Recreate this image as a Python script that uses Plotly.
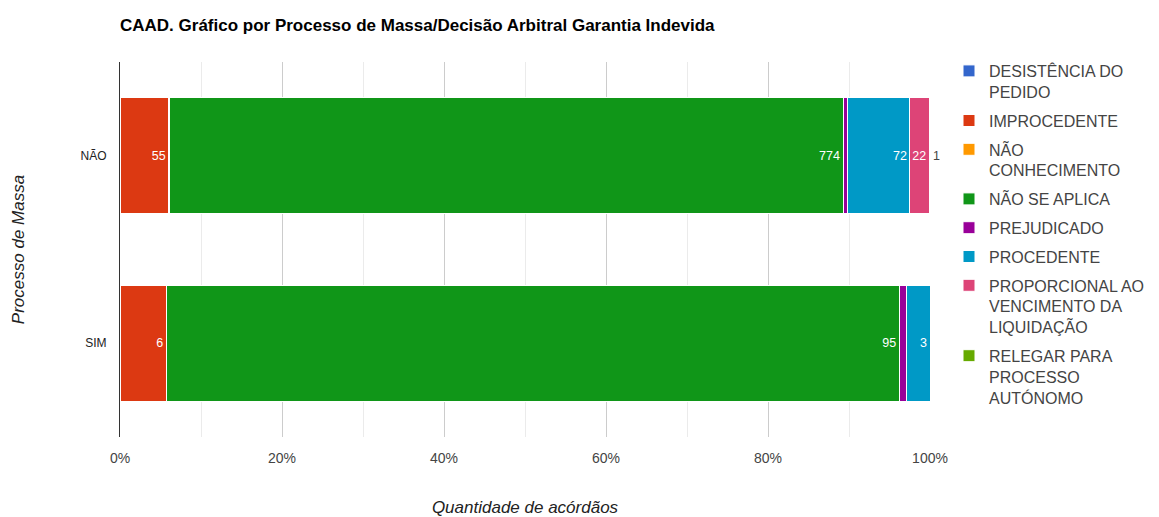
import plotly.graph_objects as go

categories = ["NÃO", "SIM"]
series_names = [
    "DESISTÊNCIA DO<br>PEDIDO",
    "IMPROCEDENTE",
    "NÃO<br>CONHECIMENTO",
    "NÃO SE APLICA",
    "PREJUDICADO",
    "PROCEDENTE",
    "PROPORCIONAL AO<br>VENCIMENTO DA<br>LIQUIDAÇÃO",
    "RELEGAR PARA<br>PROCESSO<br>AUTÓNOMO",
]
desistencia = [1, 0]
improcedente = [55, 6]
nao_conhecimento = [1, 0]
nao_se_aplica = [774, 95]
prejudicado = [5, 1]
procedente = [72, 3]
proporcional = [22, 0]
relegar = [1, 0]
series_values = [desistencia, improcedente, nao_conhecimento, nao_se_aplica,
                 prejudicado, procedente, proporcional, relegar]
colors = ["#3366CC", "#DC3912", "#FF9900", "#109618", "#990099", "#0099C6", "#DD4477", "#66AA00"]
x_ticks = [0, 0.2, 0.4, 0.6, 0.8, 1.0]
x_tick_labels = ["0%", "20%", "40%", "60%", "80%", "100%"]

totals = [sum(s[j] for s in series_values) for j in range(len(categories))]

fig = go.Figure()
for i, (name, vals, col) in enumerate(zip(series_names, series_values, colors)):
    last = i == len(series_names) - 1
    if last:
        texts = [str(v) if v > 0 else "" for v in vals]
    else:
        texts = [str(v) if v / t >= 0.02 else "" for v, t in zip(vals, totals)]
    fig.add_trace(go.Bar(
        y=categories, x=vals, name=name, orientation="h",
        legendgroup=f"g{i}",
        marker=dict(color=col, line=dict(color="white", width=1)),
        text=texts,
        textposition="outside" if last else "inside",
        insidetextanchor="end",
        textangle=0,
        insidetextfont=dict(color="white", size=12.5, family="Liberation Sans, Arial"),
        outsidetextfont=dict(color="#444444", size=12.5, family="Liberation Sans, Arial"),
        cliponaxis=False,
        constraintext="none",
        hoverinfo="x+y+name",
    ))

# page body has an 8px default margin; figure size and margins compensate for it
fig.update_layout(
    barmode="stack",
    barnorm="fraction",
    bargap=0.38,
    width=1151, height=509,
    margin=dict(l=112, r=229, t=54, b=80, autoexpand=False),
    paper_bgcolor="white", plot_bgcolor="white",
    font=dict(family="Liberation Sans, Arial", color="#444444"),
    title=dict(text="<b>CAAD. Gráfico por Processo de Massa/Decisão Arbitral Garantia Indevida</b>",
               x=112/1151, xanchor="left", y=1-17/509, yanchor="middle",
               font=dict(size=17, color="#000000", family="Liberation Sans, Arial")),
    legend=dict(x=(941-112)/810, y=1 + 8/375, xanchor="left", yanchor="top",
                font=dict(size=16, color="#444444"), tracegroupgap=5,
                valign="top", itemwidth=30, traceorder="grouped", maxheight=480),
    xaxis=dict(range=[0, 1], tickvals=x_ticks, ticktext=x_tick_labels,
               showgrid=True, gridcolor="#cccccc", zeroline=False, automargin=False,
               minor=dict(dtick=0.1, showgrid=True, gridcolor="#ebebeb"),
               tickfont=dict(size=14, color="#444444"), ticklabelstandoff=11,
               title=dict(text="<i>Quantidade de acórdãos</i>", font=dict(size=17, color="#222222"), standoff=40)),
    yaxis=dict(autorange="reversed", showline=True, linecolor="#333333", linewidth=1, automargin=False,
               tickfont=dict(size=12, color="#222222"), ticks="", ticklabelstandoff=10,
               title=dict(text="<i>Processo de Massa</i>", font=dict(size=17, color="#222222"), standoff=51)),
)

fig.write_html("out.html")
